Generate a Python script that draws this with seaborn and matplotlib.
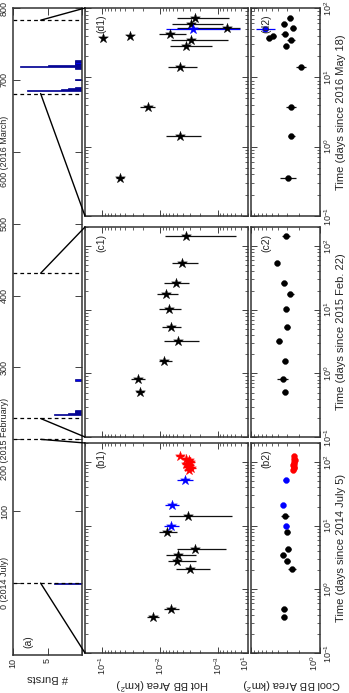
import numpy as np
import matplotlib
matplotlib.use('Agg')
import matplotlib.pyplot as plt
import seaborn as sns
from matplotlib.patches import ConnectionPatch
from matplotlib.ticker import LogLocator, NullFormatter

sns.set_style('ticks')
plt.rcParams['font.family'] = ['Liberation Sans', 'DejaVu Sans']
plt.rcParams['mathtext.fontset'] = 'custom'
plt.rcParams['mathtext.rm'] = 'Liberation Sans'
plt.rcParams['mathtext.it'] = 'Liberation Sans:italic'

# ---------------- data ----------------
# panel (a): burst histogram (days since 2014 July, number of bursts)
burst_days = [0, 234, 235.6, 237, 238.5, 240, 282.5, 685, 686.6, 688, 689.5, 700,
              716, 717.5, 719, 720.6, 722, 723.5, 725, 726.5]
burst_counts = [4, 4, 2, 1, 1, 1, 1, 8, 3, 2, 1, 1,
                1, 1, 9, 5, 1, 1, 1, 1]
dashed_days = [0, 200, 229, 431, 681, 783]
a_ticks = [0, 100, 200, 300, 400, 500, 600, 700, 800]
a_ticklabels = ['0 (2014 July)', '100', '200 (2015 February)', '300', '400', '500',
                '600 (2016 March)', '700', '800']

# panel (b): since 2014 July 5
b_t = [0.37, 0.49, 2.07, 2.76, 3.44, 4.37, 7.9, 14.0]
b_hot = [0.0135, 0.0065, 0.0030, 0.0051, 0.0048, 0.00245, 0.0076, 0.0033]
b_hot_hi = [0.0172, 0.00845, 0.00531, 0.0074, 0.0079, 0.0051, 0.0106, 0.0071]
b_hot_lo = [0.0106, 0.00464, 0.00134, 0.0024, 0.0024, 0.00073, 0.0051, 0.00056]
b_cool = [3.36, 3.35, 2.55, 3.0, 3.44, 2.91, 2.98, 3.25]
b_cool_e = [0.04, 0.04, 0.06, 0.04, 0.04, 0.04, 0.04, 0.06]

bb_t = [9.9, 21.3, 52.8]
bb_hot = [0.0065, 0.0062, 0.0037]
bb_hot_hi = [0.0087, 0.0082, 0.0050]
bb_hot_lo = [0.0047, 0.0047, 0.0027]
bb_cool = [3.08, 3.44, 3.14]

br_t = [125, 114, 107, 101, 95, 90, 85, 80, 75]
br_hot = [0.0045, 0.0035, 0.0032, 0.0030, 0.0035, 0.0031, 0.0033, 0.0029, 0.0032]
br_hot_hi = [0.0053, 0.0042, 0.0038, 0.0036, 0.0042, 0.0037, 0.0040, 0.0035, 0.0038]
br_hot_lo = [0.0038, 0.0029, 0.0027, 0.0025, 0.0029, 0.0026, 0.0028, 0.0024, 0.0027]
br_cool = [2.4, 2.35, 2.3, 2.4, 2.35, 2.45, 2.35, 2.4, 2.45]

# panel (c): since 2015 Feb. 22
c_t = [0.51, 0.805, 1.54, 3.2, 5.3, 10.2, 17.6, 26.7, 53.7, 147]
c_hot = [0.0224, 0.024, 0.0085, 0.00497, 0.0065, 0.0071, 0.0079, 0.0054, 0.0041, 0.0035]
c_hot_hi = [0.0263, 0.0313, 0.0106, 0.0087, 0.0093, 0.0103, 0.0115, 0.00845, 0.0062, 0.0082]
c_hot_lo = [0.0188, 0.0181, 0.0061, 0.00214, 0.00428, 0.00435, 0.00482, 0.0031, 0.00223, 0.00048]
c_cool = [3.25, 3.44, 3.25, 3.93, 3.0, 3.08, 2.7, 3.33, 4.16, 3.14]
c_cool_e = [0.04, 0.08, 0.04, 0.04, 0.04, 0.04, 0.05, 0.04, 0.03, 0.06]

# panel (d): since 2016 May 18
d_t = [0.353, 1.41, 3.74, 14.0, 28.1, 35.1, 42.3, 37, 40, 51, 59.6, 72]
d_hot = [0.049, 0.0046, 0.0165, 0.0045, 0.00356, 0.0029, 0.0068, 0.096, 0.0335, 0.0007, 0.0029, 0.00248]
d_hot_hi = [0.057, 0.0079, 0.0224, 0.0072, 0.0068, 0.0065, 0.0106, 0.10, 0.035, 0.0050, 0.0061, 0.0051]
d_hot_lo = [0.0414, 0.00195, 0.0123, 0.00232, 0.00126, 0.00067, 0.00356, 0.092, 0.032, 0.00042, 0.00082, 0.00063]
d_cool = [2.91, 2.6, 2.66, 1.87, 3.14, 2.63, 3.25, 5.48, 4.8, 2.46, 3.33, 2.7]
d_cool_e = [0.11, 0.05, 0.07, 0.07, 0.04, 0.06, 0.05, 0.05, 0.04, 0.05, 0.04, 0.04]

db_t = [50]
db_hot = [0.00272]
db_hot_hi = [0.0079]
db_hot_lo = [0.00042]
db_cool = [6.3]
db_cool_hi = [8.47]
db_cool_lo = [4.54]

# ---------------- layout ----------------
W, H = 349, 693
fig = plt.figure(figsize=(W / 100, H / 100), dpi=100)


def frac(x0, y0, x1, y1):
    return [x0 / W, 1 - y1 / H, (x1 - x0) / W, (y1 - y0) / H]


FS_TICK = 6.5
FS_LAB = 8
FRAME = '#333333'


def style(ax):
    for s in ax.spines.values():
        s.set_color(FRAME)
        s.set_linewidth(1.1)
    ax.tick_params(which='both', direction='in', top=True, bottom=True, left=True,
                   right=True, labelsize=FS_TICK, color='#222222', pad=2)
    ax.tick_params(which='major', length=4, width=0.6)
    ax.tick_params(which='minor', length=2, width=0.5)
    ax.set_xlabel('')
    ax.set_ylabel('')


ax_a = fig.add_axes(frac(13, 8, 82, 655))
ax_a.barh(burst_days, burst_counts, height=1.6, color='#0000ee',
          edgecolor='#000080', linewidth=0.5)
for d in dashed_days:
    ax_a.axhline(d, ls=(0, (3, 2.5)), color='k', lw=0.9)
ax_a.set_xlim(10, 0)
ax_a.set_ylim(-100, 800)
style(ax_a)
ax_a.tick_params(which='major', length=5)
ax_a.set_xticks([10, 5, 0])
ax_a.set_xticklabels(['10', '5', ''], rotation=90)
ax_a.set_yticks(a_ticks)
ax_a.set_yticklabels(a_ticklabels, rotation=90, va='center')
ax_a.tick_params(axis='y', pad=3)

rows = [
    dict(y0=443, y1=653, tmax=200, lab='b', t=b_t, hot=b_hot, hi=b_hot_hi, lo=b_hot_lo,
         cool=b_cool, ce=b_cool_e),
    dict(y0=227, y1=437, tmax=200, lab='c', t=c_t, hot=c_hot, hi=c_hot_hi, lo=c_hot_lo,
         cool=c_cool, ce=c_cool_e),
    dict(y0=8, y1=216, tmax=100, lab='d', t=d_t, hot=d_hot, hi=d_hot_hi, lo=d_hot_lo,
         cool=d_cool, ce=d_cool_e),
]
xlabels = {'b': 'Time (days since 2014 July 5)', 'c': 'Time (days since 2015 Feb. 22)',
           'd': 'Time (days since 2016 May 18)'}
conn_days = {'b': (0, 200), 'c': (229, 431), 'd': (681, 783)}

ERR_LW = 0.9
STAR_S = 55
DOT_S = 18


def hot_points(ax, t, a, lo, hi, color):
    a = np.array(a); lo = np.array(lo); hi = np.array(hi)
    ax.errorbar(a, t, xerr=[a - lo, hi - a], fmt='none', ecolor=color if color != 'k' else '#111111',
                elinewidth=ERR_LW, capsize=0)
    sns.scatterplot(x=a, y=t, ax=ax, marker='*', s=STAR_S, color=color,
                    edgecolor=color, linewidth=0.3, zorder=3)


def cool_points(ax, t, c, lo, hi, color):
    c = np.array(c); lo = np.array(lo); hi = np.array(hi)
    ax.errorbar(c, t, xerr=[c - lo, hi - c], fmt='none', ecolor=color if color != 'k' else '#111111',
                elinewidth=ERR_LW, capsize=0)
    sns.scatterplot(x=c, y=t, ax=ax, marker='o', s=DOT_S, color=color,
                    edgecolor=color, linewidth=0.3, zorder=3)


for r in rows:
    axh = fig.add_axes(frac(85, r['y0'], 248, r['y1']))
    axc = fig.add_axes(frac(251, r['y0'], 320, r['y1']))
    c = np.array(r['cool']); ce = np.array(r['ce'])
    hot_points(axh, r['t'], r['hot'], r['lo'], r['hi'], 'k')
    cool_points(axc, r['t'], c, c / 10 ** ce, c * 10 ** ce, 'k')
    if r['lab'] == 'b':
        hot_points(axh, bb_t, bb_hot, bb_hot_lo, bb_hot_hi, '#0000ff')
        hot_points(axh, br_t, br_hot, br_hot_lo, br_hot_hi, '#ff0000')
        bc = np.array(bb_cool); rc = np.array(br_cool)
        cool_points(axc, bb_t, bc, bc / 1.08, bc * 1.08, '#0000ff')
        cool_points(axc, br_t, rc, rc / 1.06, rc * 1.06, '#ff0000')
    if r['lab'] == 'd':
        hot_points(axh, db_t, db_hot, db_hot_lo, db_hot_hi, '#0000ff')
        cool_points(axc, db_t, db_cool, db_cool_lo, db_cool_hi, '#0000ff')
    for ax in (axh, axc):
        ax.set_yscale('log')
        ax.set_xscale('log')
        ax.set_ylim(0.1, r['tmax'])
        ax.yaxis.set_major_locator(LogLocator(base=10, numticks=10))
        ax.yaxis.set_minor_locator(LogLocator(base=10, subs=np.arange(2, 10), numticks=20))
        ax.yaxis.set_minor_formatter(NullFormatter())
        ax.xaxis.set_minor_locator(LogLocator(base=10, subs=np.arange(2, 10), numticks=20))
        ax.xaxis.set_minor_formatter(NullFormatter())
        style(ax)
    axh.set_xlim(0.2, 3e-4)
    axc.set_xlim(10, 1)
    axh.xaxis.set_major_locator(LogLocator(base=10, numticks=10))
    axc.xaxis.set_major_locator(LogLocator(base=10, numticks=10))
    axh.tick_params(labelleft=False, labelright=False)
    axc.tick_params(labelleft=False, labelright=True)
    for lab in axc.get_yticklabels():
        lab.set_rotation(90)
        lab.set_va('center')
    if r['lab'] == 'b':
        axh.tick_params(axis='x', labelbottom=True, labelrotation=90)
        axc.tick_params(axis='x', labelbottom=True, labelrotation=90)
        for lab in axc.get_xticklabels():
            lab.set_ha('right')
    else:
        axh.tick_params(axis='x', labelbottom=False)
        axc.tick_params(axis='x', labelbottom=False)
    yc = (r['y0'] + r['y1']) / 2
    fig.text(341 / W, 1 - yc / H, xlabels[r['lab']], rotation=90, ha='center', va='center',
             fontsize=FS_LAB)
    fig.text(101 / W, 1 - (r['y0'] + 16) / H, '(%s1)' % r['lab'], rotation=90,
             ha='center', va='center', fontsize=7.5)
    fig.text(266 / W, 1 - (r['y0'] + 16) / H, '(%s2)' % r['lab'], rotation=90,
             ha='center', va='center', fontsize=7.5)
    d0, d1 = conn_days[r['lab']]
    for dd, yb in ((d0, 0), (d1, 1)):
        con = ConnectionPatch(xyA=(6, dd), coordsA=ax_a.transData,
                              xyB=(0, yb), coordsB=axh.transAxes,
                              color='k', lw=1.0)
        fig.add_artist(con)

fig.text(28 / W, 1 - 642 / H, '(a)', rotation=90, ha='center', va='center', fontsize=7.5)
fig.text(48 / W, 1 - 678 / H, '# Bursts', rotation=180, ha='center', va='center', fontsize=FS_LAB)
fig.text(162 / W, 1 - 684 / H, 'Hot BB Area (km$^2$)', rotation=180, ha='center',
         va='center', fontsize=FS_LAB)
fig.text(292 / W, 1 - 684 / H, 'Cool BB Area (km$^2$)', rotation=180, ha='center',
         va='center', fontsize=FS_LAB)

fig.savefig('out.png', dpi=100)
